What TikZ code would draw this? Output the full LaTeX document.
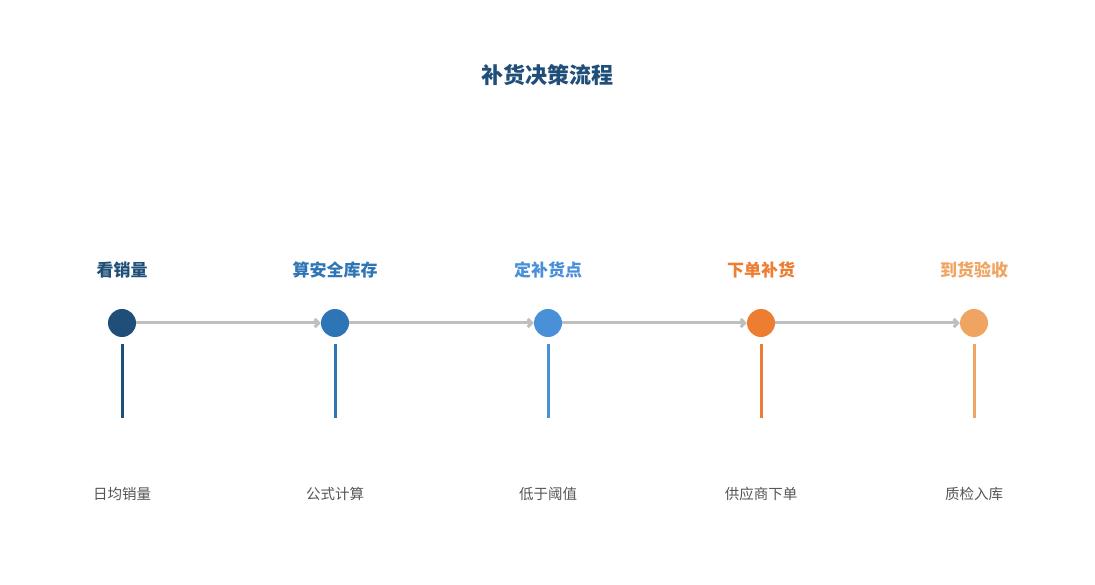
\documentclass[tikz,border=0pt]{standalone}
\usepackage{fontspec}
\setmainfont{Noto Sans CJK SC}
\usetikzlibrary{arrows.meta}
\definecolor{c1}{HTML}{1F4E79}
\definecolor{c2}{HTML}{2E75B6}
\definecolor{c3}{HTML}{4A90D9}
\definecolor{c4}{HTML}{ED7D31}
\definecolor{c5}{HTML}{F0A462}
\definecolor{ln}{HTML}{BFBFBF}
\definecolor{tx}{HTML}{555555}
\begin{document}
\begin{tikzpicture}[x=1pt,y=-1pt,
  dot/.style={circle,fill=#1,minimum size=28pt,inner sep=0pt},
  head/.style={text=#1,font=\fontsize{17pt}{20pt}\selectfont\bfseries},
  sub/.style={text=tx,font=\fontsize{14.5pt}{17pt}\selectfont},
  stem/.style={draw=#1,line width=3pt},
  conn/.style={draw=ln,line width=3pt,-{Straight Barb[length=4pt,width=8pt]}}]
\useasboundingbox (0,0) rectangle (1095,585);
\node[text=c1,font=\fontsize{22pt}{26pt}\selectfont\bfseries] (title) at (547,75) {补货决策流程};
\foreach \i/\x/\c/\h/\s in {1/122/c1/看销量/日均销量,2/335/c2/算安全库存/公式计算,3/548/c3/定补货点/低于阈值,4/761/c4/下单补货/供应商下单,5/974/c5/到货验收/质检入库}{
  \node[head=\c] (h\i) at (\x,270) {\h};
  \node[dot=\c] (d\i) at (\x,323) {};
  \coordinate (a\i) at (\x,344);
  \coordinate (b\i) at (\x,418);
  \draw[stem=\c] (a\i) -- (b\i);
  \node[sub] (s\i) at (\x,494) {\s};
}
\foreach \i/\j in {1/2,2/3,3/4,4/5}{
  \draw[conn] (d\i) -- (d\j);
}
\end{tikzpicture}
\end{document}
